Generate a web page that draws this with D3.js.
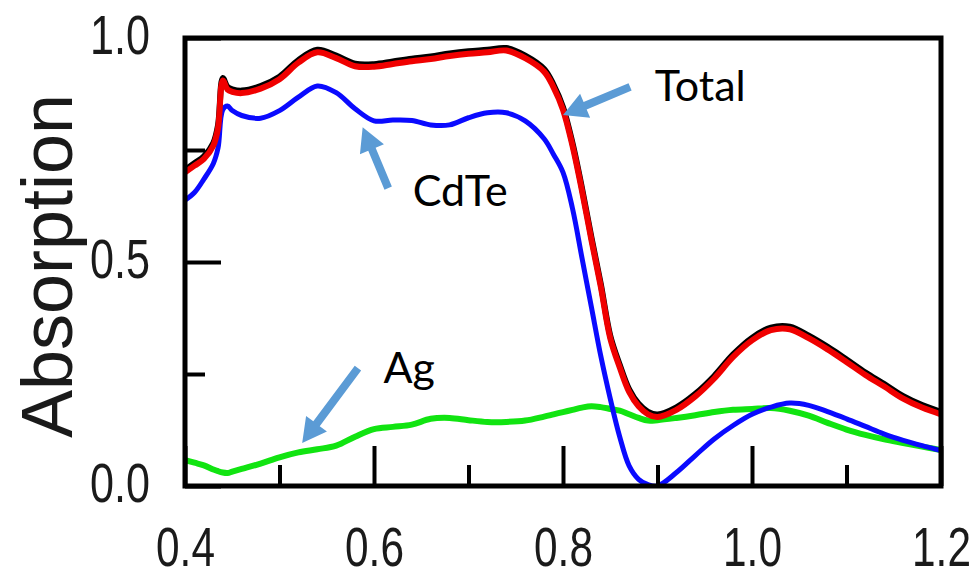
<!DOCTYPE html>
<html>
<head>
<meta charset="utf-8">
<script src="https://cdn.jsdelivr.net/npm/d3@7"></script>
<style>
  html, body { margin: 0; padding: 0; background: #fff; }
  svg { display: block; }
</style>
</head>
<body>
<svg id="chart" width="979" height="578"></svg>
<script>
// ---------------- DATA ----------------
const wavelength = [0.40, 0.41, 0.42, 0.43, 0.435, 0.44, 0.445, 0.45, 0.46, 0.48, 0.50, 0.52, 0.54, 0.56, 0.58, 0.60,
  0.62, 0.64, 0.66, 0.68, 0.70, 0.72, 0.74, 0.76, 0.78, 0.79, 0.80, 0.81, 0.82, 0.83, 0.84, 0.85, 0.86, 0.87, 0.88,
  0.89, 0.90, 0.92, 0.94, 0.96, 0.98, 1.00, 1.02, 1.04, 1.06, 1.08, 1.10, 1.12, 1.14, 1.16, 1.18, 1.20];

const totalAbs = [0.700, 0.715, 0.730, 0.760, 0.800, 0.905, 0.885, 0.880, 0.877, 0.887, 0.908, 0.945, 0.968, 0.955, 0.937, 0.936,
  0.942, 0.948, 0.953, 0.960, 0.965, 0.968, 0.972, 0.955, 0.925, 0.890, 0.840, 0.760, 0.660, 0.550, 0.445, 0.330, 0.265, 0.210, 0.178,
  0.160, 0.154, 0.170, 0.200, 0.240, 0.288, 0.325, 0.348, 0.350, 0.330, 0.305, 0.277, 0.248, 0.222, 0.195, 0.175, 0.160];

const cdteAbs = [0.638, 0.655, 0.685, 0.720, 0.755, 0.840, 0.848, 0.838, 0.827, 0.821, 0.838, 0.868, 0.893, 0.878, 0.842, 0.815,
  0.817, 0.816, 0.806, 0.806, 0.822, 0.833, 0.833, 0.815, 0.775, 0.740, 0.700, 0.620, 0.510, 0.400, 0.290, 0.195, 0.110, 0.045, 0.015,
  0.003, 0.000, 0.030, 0.068, 0.105, 0.135, 0.160, 0.176, 0.185, 0.180, 0.166, 0.150, 0.133, 0.116, 0.102, 0.090, 0.079];

const agAbs = [0.058, 0.052, 0.046, 0.037, 0.033, 0.030, 0.029, 0.032, 0.038, 0.050, 0.064, 0.075, 0.082, 0.090, 0.110, 0.127,
  0.132, 0.137, 0.150, 0.152, 0.147, 0.143, 0.143, 0.146, 0.155, 0.160, 0.165, 0.170, 0.175, 0.178, 0.176, 0.172, 0.168, 0.160, 0.152,
  0.146, 0.147, 0.152, 0.158, 0.165, 0.170, 0.172, 0.174, 0.168, 0.157, 0.141, 0.126, 0.114, 0.104, 0.096, 0.088, 0.080];

const xMajorTicks = [0.4, 0.6, 0.8, 1.0, 1.2];
const xMinorTicks = [0.5, 0.7, 0.9, 1.1];
const yMajorTicks = [0.0, 0.5, 1.0];
const yMinorTicks = [0.25, 0.75];
const yAxisTitle = "Absorption";

// annotation labels with arrow tail / tip in data units
const annoLabels = ["Total", "CdTe", "Ag"];
const annoTextPos = [[0.897, 0.859], [0.641, 0.625], [0.610, 0.230]];
const annoArrowTail = [[0.871, 0.891], [0.615, 0.665], [0.583, 0.263]];
const annoArrowTip = [[0.800, 0.828], [0.588, 0.801], [0.524, 0.096]];

// ---------------- CHART ----------------
(function () {
const svg = d3.select("#chart");
const mLeft = 185, mRight = 941, mTop = 38, mBottom = 486;

const x = d3.scaleLinear().domain([0.4, 1.2]).range([mLeft, mRight]);
const y = d3.scaleLinear().domain([0, 1]).range([mBottom, mTop]);

const tickFont = "'Liberation Sans', Arial, Helvetica, sans-serif";
const labelScaleX = 0.77;

svg.append("defs").append("clipPath").attr("id", "plotClip")
  .append("rect")
  .attr("x", mLeft).attr("y", mTop - 10)
  .attr("width", mRight - mLeft).attr("height", mBottom - mTop + 10);

const series = [
  { values: agAbs, color: "#11e411", width: 6 },
  { values: cdteAbs, color: "#0a0aff", width: 5 },
];
const line = (vals) => d3.line()
  .x((d, i) => x(wavelength[i]))
  .y(d => y(d))
  .curve(d3.curveCatmullRom.alpha(0.5))(vals);

const plot = svg.append("g").attr("clip-path", "url(#plotClip)");

// Total: black halo beneath red line
plot.append("path")
  .attr("d", line(totalAbs))
  .attr("fill", "none")
  .attr("stroke", "#000")
  .attr("stroke-width", 6)
  .attr("transform", "translate(0,-2.5)")
  .attr("stroke-linejoin", "round");

series.forEach(s => {
  plot.append("path")
    .attr("d", line(s.values))
    .attr("fill", "none")
    .attr("stroke", s.color)
    .attr("stroke-width", s.width)
    .attr("stroke-linejoin", "round");
});

plot.append("path")
  .attr("d", line(totalAbs))
  .attr("fill", "none")
  .attr("stroke", "#f00000")
  .attr("stroke-width", 6)
  .attr("stroke-linejoin", "round");

function styleAxis(g) {
  g.select(".domain").remove();
  g.selectAll(".tick line").attr("stroke", "#000").attr("stroke-width", 4);
}

const xAxisMajor = svg.append("g")
  .attr("transform", `translate(0,${mBottom})`)
  .call(d3.axisBottom(x).tickValues(xMajorTicks).tickSize(-40).tickPadding(41).tickFormat(d3.format(".1f")));
styleAxis(xAxisMajor);
xAxisMajor.selectAll(".tick text")
  .attr("font-family", tickFont)
  .attr("font-size", 55)
  .attr("fill", "#1a1a1a")
  .attr("transform", `scale(${labelScaleX},1)`);

const xAxisMinor = svg.append("g")
  .attr("transform", `translate(0,${mBottom})`)
  .call(d3.axisBottom(x).tickValues(xMinorTicks).tickSize(-21).tickFormat(""));
styleAxis(xAxisMinor);

const yAxisMajor = svg.append("g")
  .attr("transform", `translate(${mLeft},0)`)
  .call(d3.axisLeft(y).tickValues(yMajorTicks).tickSize(-36).tickPadding(35 / labelScaleX).tickFormat(d3.format(".1f")));
styleAxis(yAxisMajor);
yAxisMajor.selectAll(".tick text")
  .attr("font-family", tickFont)
  .attr("font-size", 56)
  .attr("fill", "#1a1a1a")
  .attr("dy", "0.28em")
  .attr("transform", `scale(${labelScaleX},1)`);

const yAxisMinor = svg.append("g")
  .attr("transform", `translate(${mLeft},0)`)
  .call(d3.axisLeft(y).tickValues(yMinorTicks).tickSize(-20).tickFormat(""));
styleAxis(yAxisMinor);

svg.append("rect")
  .attr("x", mLeft).attr("y", mTop)
  .attr("width", mRight - mLeft).attr("height", mBottom - mTop)
  .attr("fill", "none")
  .attr("stroke", "#000")
  .attr("stroke-width", 5);

svg.append("text")
  .attr("transform", `translate(72,${(mTop + mBottom) / 2 + 4}) rotate(-90)`)
  .attr("text-anchor", "middle")
  .attr("font-family", tickFont)
  .attr("font-size", 72)
  .attr("fill", "#1a1a1a")
  .text(yAxisTitle);

const arrowColor = "#5b9bd5";
function arrowPath(tail, tip) {
  const x0 = x(tail[0]), y0 = y(tail[1]);
  const x1 = x(tip[0]), y1 = y(tip[1]);
  const dx = x1 - x0, dy = y1 - y0;
  const len = Math.hypot(dx, dy);
  const ux = dx / len, uy = dy / len;
  const nx = -uy, ny = ux;
  const headLen = 24, headW = 13, shaftW = 4;
  const bx = x1 - ux * headLen, by = y1 - uy * headLen;
  const pts = [
    [x0 + nx * shaftW, y0 + ny * shaftW],
    [bx + nx * shaftW, by + ny * shaftW],
    [bx + nx * headW, by + ny * headW],
    [x1, y1],
    [bx - nx * headW, by - ny * headW],
    [bx - nx * shaftW, by - ny * shaftW],
    [x0 - nx * shaftW, y0 - ny * shaftW],
  ];
  return "M" + pts.map(p => p.join(",")).join("L") + "Z";
}

annoLabels.forEach((lab, i) => {
  svg.append("path")
    .attr("d", arrowPath(annoArrowTail[i], annoArrowTip[i]))
    .attr("fill", arrowColor);
  svg.append("text")
    .attr("x", x(annoTextPos[i][0]))
    .attr("y", y(annoTextPos[i][1]))
    .attr("font-family", "Lato, 'Open Sans', sans-serif")
    .attr("font-size", 43)
    .attr("fill", "#000")
    .text(lab);
});
})();
</script>
</body>
</html>
